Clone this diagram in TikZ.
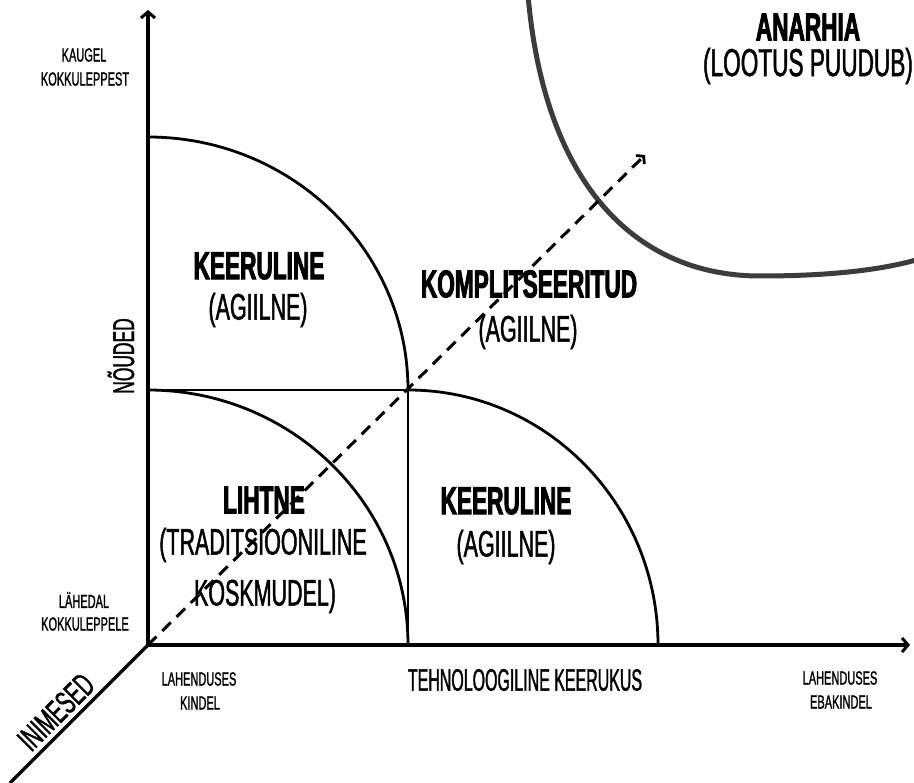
\documentclass[tikz,border=0pt]{standalone}
\usepackage{fontspec}
\setmainfont{Liberation Sans}[FakeStretch=0.58,FakeBold=1.2,BoldFeatures={FakeBold=2.2}]
\newfontfamily\narrowfont{Liberation Sans}[FakeStretch=0.515,FakeBold=1.2]
\usetikzlibrary{arrows.meta}
\definecolor{anarchy}{HTML}{3C3C3C}
\begin{document}
\begin{tikzpicture}[x=1pt,y=-1pt,
  axis/.style={line width=3.4pt,-{Straight Barb[length=6pt,width=14pt,line width=3pt]}},
  zone/.style={line width=2.8pt},
  trend/.style={line width=3pt,dash pattern=on 12pt off 8pt,-{Straight Barb[length=5pt,width=12pt,line width=2.8pt]}},
  small/.style={inner sep=0pt,font=\fontsize{19}{19}\selectfont},
  axislabel/.style={inner sep=0pt,font=\fontsize{31}{31}\selectfont},
  title/.style={inner sep=0pt,font=\fontsize{39}{39}\selectfont\bfseries},
  sub/.style={inner sep=0pt,font=\fontsize{37}{37}\selectfont}]
\fill[white] (0,0) rectangle (914,783);
\useasboundingbox (0,0) rectangle (914,783);

% axes
\coordinate (O) at (148,645);
\coordinate (ytop) at (148,10);
\coordinate (xend) at (910,645);
\coordinate (zend) at (10,783);
\draw[axis] (O) -- (ytop);
\draw[axis] (O) -- (xend);
\draw[line width=3.4pt] (O) -- (zend);

% zone boundaries
\coordinate (M) at (148,390);
\coordinate (C) at (408,390);
\coordinate (B) at (408,645);
\coordinate (T) at (148,137);
\coordinate (R) at (658,645);
\draw[zone] (M) -- (C) -- (B);
\draw[zone] (T) .. controls (291.6,137) and (408,250.3) .. (C);
\draw[zone] (M) .. controls (291.6,390) and (408,504.2) .. (B);
\draw[zone] (C) .. controls (546,390) and (658,504.2) .. (R);

% anarchy border
\draw[line width=5pt,anarchy] (528,-5) .. controls (545,190) and (640,276) .. (760,276)
  .. controls (830,276) and (880,270) .. (916,260);

% axis captions
\node[small] (kaugel) at (84,55) {KAUGEL};
\node[small] (kaugel2) at (85,79) {KOKKULEPPEST};
\node[small] (lahedal) at (84,600) {LÄHEDAL};
\node[small] (lahedal2) at (85,624) {KOKKULEPPELE};
\node[small] (kindel) at (199,679) {LAHENDUSES};
\node[small] (kindel2) at (200,703) {KINDEL};
\node[small] (ebakindel) at (840,678) {LAHENDUSES};
\node[small] (ebakindel2) at (841,702) {EBAKINDEL};
\node[axislabel,font=\fontsize{31}{31}\narrowfont] (xlabel) at (525,680) {TEHNOLOOGILINE KEERUKUS};
\node[axislabel,rotate=90,font=\fontsize{30}{30}\selectfont] (ylabel) at (121,356) {NÕUDED};
\node[axislabel,rotate=45,font=\fontsize{33}{33}\selectfont] (zlabel) at (56,712) {INIMESED};

% zone captions
\node[title] (k1) at (259,266) {KEERULINE};
\node[sub] (k1b) at (258,310) {(AGIILNE)};
\node[title] (kp) at (529,284) {KOMPLITSEERITUD};
\node[sub] (kpb) at (528,332) {(AGIILNE)};
\node[title] (lh) at (264,500) {LIHTNE};
\node[sub] (lhb) at (263,545) {(TRADITSIOONILINE};
\node[sub] (lhc) at (265,596) {KOSKMUDEL)};
\node[title] (k2) at (506,501) {KEERULINE};
\node[sub] (k2b) at (506,547) {(AGIILNE)};
\node[title] (an) at (808,27) {ANARHIA};
\node[sub,font=\fontsize{39}{39}\selectfont] (anb) at (808,66) {(LOOTUS PUUDUB)};

% growth direction
\coordinate (trendend) at (645,155);
\draw[trend] (O) -- (trendend);
\end{tikzpicture}
\end{document}
